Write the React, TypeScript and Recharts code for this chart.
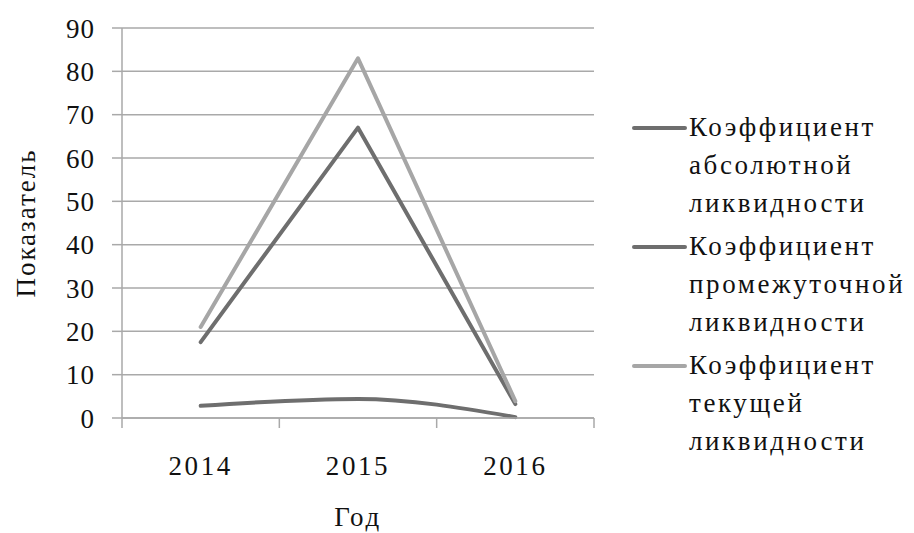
import React from "react";
import { LineChart, Line, XAxis, YAxis, CartesianGrid, Label } from "recharts";

const years = ["2014", "2015", "2016"];
const absoluteRatio = [2.8, 4.4, 0.2];
const intermediateRatio = [17.5, 67, 3.2];
const currentRatio = [21, 83, 3.9];
const yTicks = [0, 10, 20, 30, 40, 50, 60, 70, 80, 90];

const seriesNames = [
  ["Коэффициент", "абсолютной", "ликвидности"],
  ["Коэффициент", "промежуточной", "ликвидности"],
  ["Коэффициент", "текущей", "ликвидности"],
];

const data = years.map((year, i) => ({
  year,
  abs: absoluteRatio[i],
  inter: intermediateRatio[i],
  cur: currentRatio[i],
}));

const W = 914;
const H = 533;
const M = { top: 28, right: 320, bottom: 0, left: 0 };
const Y_AXIS_W = 122;
const X_AXIS_H = 115;
const BAND = (W - M.left - M.right - Y_AXIS_W) / years.length;

const FONT = "'Liberation Serif', 'Times New Roman', Times, serif";
const GRID = "#a9a9a9";
const DARK = "#6e6e6e";
const LIGHT = "#a6a6a6";
const colors = [DARK, DARK, LIGHT];

const textStyle = { fontFamily: FONT, fontSize: 27, letterSpacing: 2.6, fill: "#111" };

// Category labels centred in each band, with tick marks on the band edges
const XTick = (props: any) => {
  const { x, y, payload, index } = props;
  const last = index === years.length - 1;
  return (
    <g>
      <line x1={x - BAND / 2} x2={x - BAND / 2} y1={y} y2={y + 10} stroke={GRID} strokeWidth={1.5} />
      {last && (
        <line x1={x + BAND / 2} x2={x + BAND / 2} y1={y} y2={y + 10} stroke={GRID} strokeWidth={1.5} />
      )}
      <text x={x} y={y + 57} textAnchor="middle" style={textStyle}>
        {payload.value}
      </text>
    </g>
  );
};

// Legend sits to the right of the plot as a plain block
const LegendBox = () => (
  <div
    style={{
      position: "absolute",
      left: 632,
      top: 108,
      fontFamily: FONT,
      fontSize: 27,
      letterSpacing: 2.6,
      color: "#111",
    }}
  >
    {seriesNames.map((lines, i) => (
      <div key={i} style={{ display: "flex", alignItems: "flex-start", marginBottom: 5 }}>
        <div
          style={{
            width: 55,
            height: 4,
            background: colors[i],
            marginTop: 18,
            borderRadius: 2,
            flexShrink: 0,
          }}
        />
        <div style={{ lineHeight: "38px", marginLeft: 2, whiteSpace: "nowrap" }}>
          {lines.map((t, j) => (
            <div key={j}>{t}</div>
          ))}
        </div>
      </div>
    ))}
  </div>
);

export default function App() {
  return (
    <div style={{ position: "absolute", left: 0, top: 0, width: W, height: H, background: "#fff" }}>
      <LineChart width={W} height={H} data={data} margin={M}>
        <CartesianGrid horizontal vertical={false} stroke={GRID} strokeWidth={1.5} />
        <XAxis
          dataKey="year"
          height={X_AXIS_H}
          padding={{ left: BAND / 2, right: BAND / 2 }}
          axisLine={{ stroke: GRID, strokeWidth: 1.5 }}
          tickLine={false}
          tickSize={0}
          tickMargin={0}
          tick={<XTick />}
          interval={0}
        >
          <Label
            content={() => (
              <text x={358} y={526} textAnchor="middle" style={textStyle}>
                Год
              </text>
            )}
          />
        </XAxis>
        <YAxis
          width={Y_AXIS_W}
          domain={[0, 90]}
          ticks={yTicks}
          interval={0}
          axisLine={{ stroke: GRID, strokeWidth: 1.5 }}
          tickLine={{ stroke: GRID, strokeWidth: 1.5 }}
          tickSize={10}
          tickMargin={17}
          tick={{ ...textStyle, letterSpacing: 1 }}
        >
          <Label
            content={() => (
              <text
                x={35}
                y={223}
                textAnchor="middle"
                transform="rotate(-90 35 223)"
                style={{ ...textStyle, letterSpacing: 2 }}
              >
                Показатель
              </text>
            )}
          />
        </YAxis>
        <Line
          type="monotone"
          dataKey="abs"
          stroke={DARK}
          strokeWidth={4}
          dot={false}
          strokeLinecap="round"
          isAnimationActive={false}
        />
        <Line
          type="linear"
          dataKey="inter"
          stroke={DARK}
          strokeWidth={4}
          dot={false}
          strokeLinecap="round"
          strokeLinejoin="round"
          isAnimationActive={false}
        />
        <Line
          type="linear"
          dataKey="cur"
          stroke={LIGHT}
          strokeWidth={4}
          dot={false}
          strokeLinecap="round"
          strokeLinejoin="round"
          isAnimationActive={false}
        />
      </LineChart>
      <LegendBox />
    </div>
  );
}
